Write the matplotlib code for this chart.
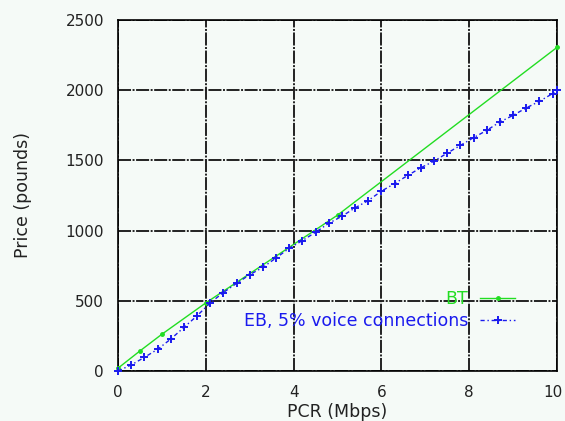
import matplotlib
matplotlib.use("Agg")
import matplotlib.pyplot as plt
import matplotlib.transforms as mtransforms

# Data
bt_x = [0, 0.5, 1, 2, 5, 10]
bt_y = [20, 143, 262, 485, 1110, 2305]

eb_x = [0, 0.3, 0.6, 0.9, 1.2, 1.5, 1.8, 2.1, 2.4, 2.7, 3.0, 3.3, 3.6, 3.9, 4.2, 4.5,
        4.8, 5.1, 5.4, 5.7, 6.0, 6.3, 6.6, 6.9, 7.2, 7.5, 7.8, 8.1, 8.4, 8.7, 9.0,
        9.3, 9.6, 9.9, 10]
eb_y = [0, 43, 97, 154, 227, 310, 393, 485, 559, 624, 686, 738, 805, 874, 929, 988,
        1052, 1102, 1162, 1214, 1281, 1335, 1393, 1448, 1495, 1552, 1607, 1662, 1714,
        1774, 1821, 1874, 1921, 1976, 2000]

x_ticks = [0, 2, 4, 6, 8, 10]
y_ticks = [0, 500, 1000, 1500, 2000, 2500]

bg = "#f5faf7"
plt.rcParams['font.family'] = ['DejaVu Sans']

fig = plt.figure(figsize=(5.65, 4.21), dpi=100, facecolor=bg)
ax = fig.add_axes([118/565, 1-371/421, 439/565, 351/421], facecolor=bg)

ax.plot(bt_x, bt_y, color="#22dd22", lw=1.0, marker='.', ms=5, label="BT",
        clip_on=False, zorder=3)
ax.plot(eb_x, eb_y, color="#1a1aee", lw=1.0, ls=(0, (3, 2, 1, 2)), marker='+', ms=6,
        mew=1.4, label="EB, 5% voice connections", clip_on=False, zorder=3)

ax.set_xlim(0, 10)
ax.set_ylim(0, 2500)
ax.set_xticks(x_ticks)
ax.set_yticks(y_ticks)
ax.tick_params(direction='in', length=0, labelsize=11, colors='#222222', pad=10)
ax.grid(True, color='#222222', lw=1.4, ls=(0, (6.7, 0.8, 1.0, 0.8)))
ax.set_axisbelow(True)
for s in ax.spines.values():
    s.set_linewidth(1.2)

# keep the last x tick label fully inside the figure
last = ax.get_xticklabels()[-1]
last.set_transform(last.get_transform() +
                   mtransforms.ScaledTranslation(-4/100, 0, fig.dpi_scale_trans))

ax.set_xlabel("PCR (Mbps)", fontsize=12.5, labelpad=2, color='#222222')
ax.set_ylabel("Price (pounds)", fontsize=12.5, labelpad=24, color='#222222')

leg = ax.legend(loc='lower right', bbox_to_anchor=((515-118)/439, (370-329)/350),
                frameon=False, markerfirst=False, fontsize=12.5, labelcolor='linecolor',
                handlelength=2.0, handletextpad=0.7, borderpad=0, borderaxespad=0,
                labelspacing=0.2)

fig.savefig("out.png", dpi=100, facecolor=bg)
